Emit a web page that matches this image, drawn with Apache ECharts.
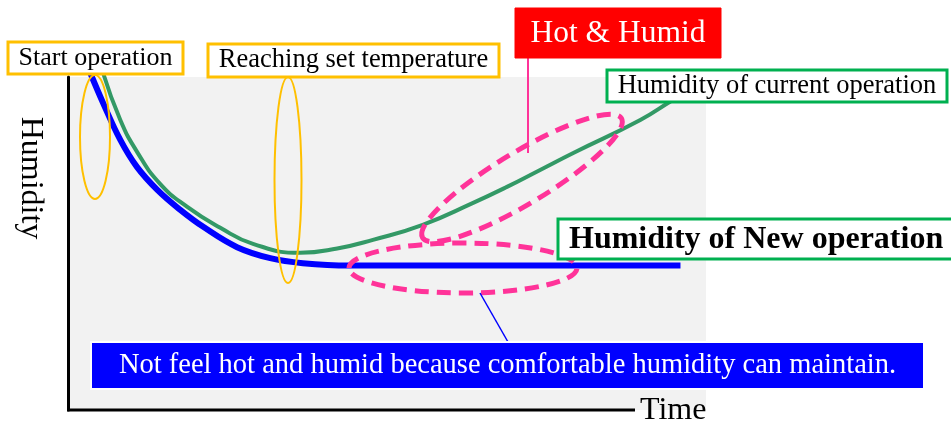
<!DOCTYPE html>
<html>
<head>
<meta charset="utf-8">
<script src="https://cdn.jsdelivr.net/npm/echarts@6/dist/echarts.min.js"></script>
<style>
  html, body { margin: 0; padding: 0; background: #fff; }
  #chart { width: 951px; height: 434px; }
</style>
</head>
<body>
<div id="chart"></div>
<script>
// humidity over time, both axes in 0..100 (arbitrary units)
const newTime = [3.5, 5.5, 8.2, 10.8, 14, 17.6, 21.2, 26.5, 31.7, 36.8, 44.2, 96];
const newHumidity = [101.2, 92.2, 81.1, 73, 66.1, 60.1, 55, 48.9, 45.6, 44.1, 43.4, 43.4];
const curTime = [5.5, 8.2, 10.8, 14.4, 18.7, 23.8, 29, 36.4, 42.2, 47.8, 55.6, 63.5, 68.8, 74, 79.2, 89.7, 94.8, 99.1];
const curHumidity = [101.2, 87.1, 77.6, 68, 61, 54.8, 49.9, 47.2, 48.5, 51.1, 55.6, 62.2, 67, 72.1, 77.2, 87.1, 93.1, 97.9];

const SERIF = '"Liberation Serif", "Times New Roman", serif';
const ORANGE = '#ffc000';
const PINK = '#ff3399';
const GREEN_BOX = '#00b050';

function pairs(xs, ys) {
  return xs.map((x, i) => [x, ys[i]]);
}

function box(x, y, w, h, stroke, fill, lw) {
  return {
    type: 'rect', z: 20,
    shape: { x: x, y: y, width: w, height: h },
    style: { fill: fill, stroke: stroke, lineWidth: lw }
  };
}

function label(text, x, y, size, color, align, weight, rot) {
  return {
    type: 'text', z: 21, x: x, y: y, rotation: rot || 0,
    style: {
      text: text, fill: color, font: (weight || 'normal') + ' ' + size + 'px ' + SERIF,
      align: align || 'center', verticalAlign: 'middle'
    }
  };
}

function oval(cx, cy, rx, ry, color, lw, dash, rot) {
  return {
    type: 'ellipse', z: 10, x: cx, y: cy, rotation: rot || 0,
    shape: { cx: 0, cy: 0, rx: rx, ry: ry },
    style: { fill: null, stroke: color, lineWidth: lw, lineDash: dash || null }
  };
}

function seg(x1, y1, x2, y2, color, lw) {
  return {
    type: 'line', z: 15,
    shape: { x1: x1, y1: y1, x2: x2, y2: y2 },
    style: { stroke: color, lineWidth: lw }
  };
}

const chart = echarts.init(document.getElementById('chart'));
chart.setOption({
  animation: false,
  grid: {
    left: 68, top: 77, right: 245, bottom: 24,
    show: true, backgroundColor: '#f2f2f2', borderWidth: 0
  },
  xAxis: {
    type: 'value', min: 0, max: 100,
    axisLine: { show: false }, axisTick: { show: false },
    axisLabel: { show: false }, splitLine: { show: false }
  },
  yAxis: {
    type: 'value', min: 0, max: 100,
    axisLine: { show: true, lineStyle: { color: '#000', width: 3 } },
    axisTick: { show: false }, axisLabel: { show: false }, splitLine: { show: false }
  },
  series: [
    {
      name: 'Humidity of current operation',
      type: 'line', smooth: 0.5, symbol: 'none', clip: false,
      lineStyle: { color: '#339966', width: 4 },
      data: pairs(curTime, curHumidity)
    },
    {
      name: 'Humidity of New operation',
      type: 'line', smooth: 0.4, symbol: 'none', clip: false,
      lineStyle: { color: '#0000ff', width: 6 },
      data: pairs(newTime, newHumidity)
    }
  ],
  graphic: [
    // x axis line + names
    seg(67, 410, 635, 410, '#000', 3),
    label('Time', 640, 411, 32, '#000', 'left'),
    label('Humidity', 30, 178, 32, '#000', 'center', 'normal', -Math.PI / 2),

    // orange markers
    oval(95, 137, 15, 62, ORANGE, 2),
    oval(288, 180, 13.5, 103, ORANGE, 2),

    // pink dashed markers
    oval(522, 178, 116, 26, PINK, 5, [14, 8], 31 * Math.PI / 180),
    oval(463, 268, 114, 25, PINK, 5, [14, 8]),

    // connectors
    seg(528, 58, 528, 153, PINK, 2),
    seg(480, 293, 508, 342, '#0000ff', 1.5),

    // boxes
    box(8, 42, 175, 32, ORANGE, '#fff', 3),
    label('Start operation', 95.5, 58, 26, '#000'),
    box(208, 44, 291, 33, ORANGE, '#fff', 3),
    label('Reaching set temperature', 353.5, 60.5, 26.5, '#000'),
    box(515, 8, 206, 50, '#ff0000', '#ff0000', 1),
    label('Hot & Humid', 618, 34, 31.5, '#fff'),
    box(607, 70, 340, 32, GREEN_BOX, '#fff', 3),
    label('Humidity of current operation', 777, 86, 26.5, '#000'),
    box(558, 219, 400, 40, GREEN_BOX, '#fff', 3),
    label('Humidity of New operation', 569, 240, 32, '#000', 'left', 'bold'),
    box(91, 342, 833, 47, '#fff', '#0000ff', 2),
    label('Not feel hot and humid because comfortable humidity can maintain.', 507.5, 366, 28.5, '#fff')
  ]
});
</script>
</body>
</html>
